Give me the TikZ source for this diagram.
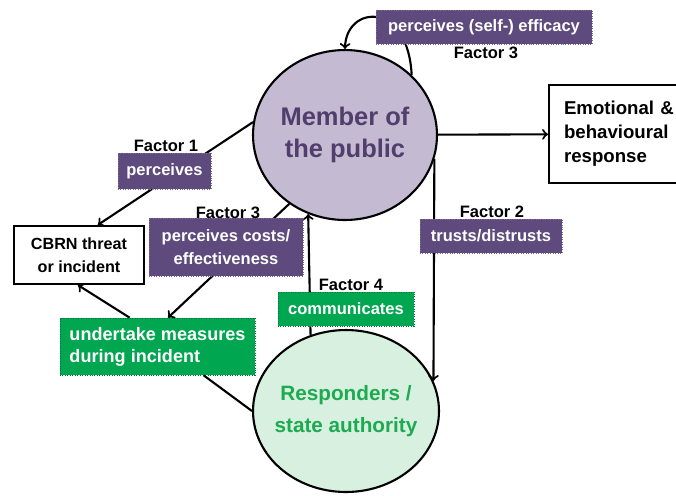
\documentclass[tikz,border=0pt]{standalone}
\usepackage{fontspec}
\setmainfont{Liberation Sans}
\usepackage{xcolor}
\usetikzlibrary{shapes.geometric, arrows}

\definecolor{factorpurple}{RGB}{94,74,124}
\definecolor{publicfill}{RGB}{196,186,210}
\definecolor{publictext}{RGB}{80,62,108}
\definecolor{respfill}{RGB}{216,240,224}
\definecolor{resptext}{RGB}{30,170,80}
\definecolor{measuregreen}{RGB}{0,166,80}

\newcommand{\midline}[1]{\makebox[0pt]{#1}}

\tikzset{
    actor/.style={ellipse, draw, line width=1.2pt, inner sep=0pt, align=center, font=\bfseries},
    plainbox/.style={rectangle, draw, line width=1.2pt, inner sep=0pt, align=center, font=\bfseries\fontsize{9.2}{13}\selectfont},
    factorbox/.style={rectangle, fill=factorpurple, draw=factorpurple!80!white, densely dotted, text=white, inner sep=0pt, align=center, font=\bfseries\fontsize{9.4}{13}\selectfont},
    actbox/.style={rectangle, fill=measuregreen, draw=measuregreen!70!black, densely dotted, text=white, inner sep=0pt, align=left, font=\bfseries\fontsize{10.3}{12.5}\selectfont},
    factorlabel/.style={font=\bfseries\fontsize{9.4}{11}\selectfont, inner sep=0pt},
    link/.style={line width=1.2pt}
}

\begin{document}
\begin{tikzpicture}[x=0.02cm, y=-0.02cm]
    \useasboundingbox (0,0) rectangle (676,495);

    % the two actors
    \node[actor, fill=publicfill, text=publictext, minimum width=3.68cm, minimum height=3.4cm,
          font=\bfseries\fontsize{14.5}{18}\selectfont] (public) at (345,135) {\midline{Member of}\\\midline{the public}};
    \node[actor, fill=respfill, text=resptext, minimum width=3.72cm, minimum height=3.24cm,
          font=\bfseries\fontsize{11.8}{18}\selectfont] (resp) at (346,411) {\midline{Responders /}\\\midline{state authority}};

    % boxes
    \node[plainbox, minimum width=2.6cm, minimum height=1.16cm] (cbrn) at (79,255) {CBRN threat\\or incident};
    \node[plainbox, anchor=west, align=left, minimum height=1.96cm, text width=3cm, inner xsep=0.3cm,
          font=\bfseries\fontsize{10.6}{13.6}\selectfont] (emo) at (548,134) {Emotional \&\\behavioural\\response};
    \node[actbox, minimum width=3.9cm, minimum height=1.14cm] (measures) at (157.5,346.5) {undertake measures\\during incident};

    % connectors
    \draw[link, ->] (public) -- (emo);
    \draw[link, ->] (public.172) -- (cbrn.58);
    \draw[link, ->] (public.231) -- (measures.70);
    \draw[link, ->] (measures.134) -- (cbrn.268);
    \draw[link] (measures.-32) -- (resp.180);
    \draw[link, ->] (resp.115.5) -- (public.245.9);
    \draw[link, ->] (public.-15.7) -- (resp.19.9);
    \draw[link, ->] (public.42) .. controls (408,0) and (346,5) .. (public.north);

    % factor labels
    \node[factorbox, minimum width=1.86cm, minimum height=0.72cm] (perc) at (164.5,171) {perceives};
    \node[factorlabel] (f1) at (166,146) {Factor 1};
    \node[factorbox, minimum width=3.08cm, minimum height=1.16cm] (costs) at (226,247) {perceives costs/\\effectiveness};
    \node[factorlabel] (f3a) at (228,213) {Factor 3};
    \node[factorbox, minimum width=2.84cm, minimum height=0.68cm] (trust) at (491,236) {trusts/distrusts};
    \node[factorlabel] (f2) at (492,212) {Factor 2};
    \node[actbox, align=center, font=\bfseries\fontsize{9.4}{13}\selectfont,
          minimum width=2.72cm, minimum height=0.68cm] (comm) at (346,309) {communicates};
    \node[factorlabel] (f4) at (351,285) {Factor 4};
    \node[factorbox, minimum width=4.32cm, minimum height=0.68cm] (efficacy) at (484,27) {perceives (self-) efficacy};
    \node[factorlabel] (f3b) at (486,53) {Factor 3};
\end{tikzpicture}
\end{document}
